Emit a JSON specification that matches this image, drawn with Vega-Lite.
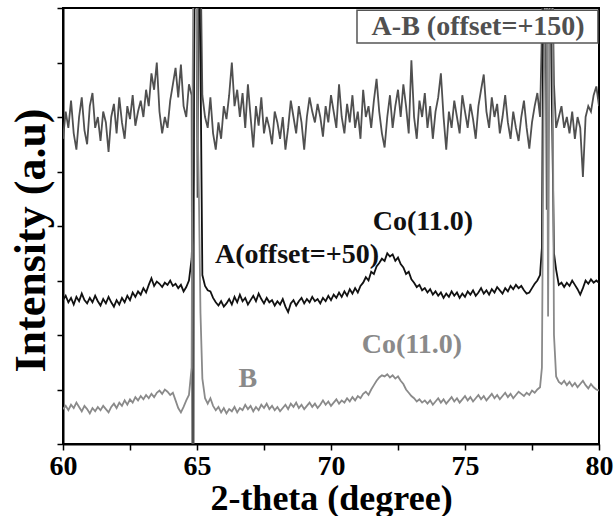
{
  "$schema": "https://vega.github.io/schema/vega-lite/v6.json",
  "width": 536,
  "height": 436,
  "autosize": {"type": "none"},
  "padding": {"left": 63, "top": 8, "right": 17, "bottom": 72},
  "background": "white",
  "config": {
    "view": {"stroke": "black", "strokeWidth": 2},
    "font": "serif",
    "axis": {"grid": false, "domainColor": "black", "domainWidth": 2, "tickColor": "black", "tickWidth": 1.5, "tickSize": 6,
      "labelFont": "serif", "labelFontWeight": "bold", "labelFontSize": 28, "labelColor": "black",
      "titleFont": "serif", "titleFontWeight": "bold", "titleFontSize": 36, "titleColor": "black"}
  },
  "datasets": {
    "spectra": [
      {"x":60.0,"ab":280,"a":132,"b":32},{"x":60.1,"ab":305,"a":136,"b":35},{"x":60.2,"ab":290,"a":130,"b":31},{"x":60.3,"ab":315,"a":134,"b":36},{"x":60.4,"ab":285,"a":128,"b":33},
      {"x":60.5,"ab":270,"a":135,"b":38},{"x":60.6,"ab":300,"a":131,"b":34},{"x":60.7,"ab":318,"a":138,"b":30},{"x":60.8,"ab":288,"a":132,"b":35},{"x":60.9,"ab":275,"a":129,"b":32},
      {"x":61.0,"ab":310,"a":134,"b":28},{"x":61.1,"ab":322,"a":130,"b":33},{"x":61.2,"ab":290,"a":136,"b":30},{"x":61.3,"ab":300,"a":131,"b":34},{"x":61.4,"ab":278,"a":127,"b":31},
      {"x":61.5,"ab":305,"a":133,"b":35},{"x":61.6,"ab":295,"a":129,"b":32},{"x":61.7,"ab":268,"a":135,"b":29},{"x":61.8,"ab":300,"a":130,"b":34},{"x":61.9,"ab":312,"a":126,"b":37},
      {"x":62.0,"ab":285,"a":132,"b":33},{"x":62.1,"ab":318,"a":128,"b":38},{"x":62.2,"ab":295,"a":134,"b":35},{"x":62.3,"ab":280,"a":130,"b":40},{"x":62.4,"ab":310,"a":136,"b":36},
      {"x":62.5,"ab":298,"a":132,"b":41},{"x":62.6,"ab":320,"a":139,"b":38},{"x":62.7,"ab":292,"a":135,"b":43},{"x":62.8,"ab":305,"a":140,"b":40},{"x":62.9,"ab":315,"a":137,"b":44},
      {"x":63.0,"ab":300,"a":143,"b":41},{"x":63.1,"ab":325,"a":139,"b":45},{"x":63.2,"ab":310,"a":146,"b":42},{"x":63.3,"ab":340,"a":152,"b":46},{"x":63.4,"ab":325,"a":145,"b":43},
      {"x":63.5,"ab":350,"a":149,"b":47},{"x":63.6,"ab":305,"a":147,"b":49},{"x":63.7,"ab":285,"a":144,"b":46},{"x":63.8,"ab":300,"a":148,"b":50},{"x":63.9,"ab":290,"a":146,"b":48},
      {"x":64.0,"ab":315,"a":150,"b":45},{"x":64.1,"ab":330,"a":145,"b":47},{"x":64.2,"ab":345,"a":147,"b":40},{"x":64.3,"ab":318,"a":143,"b":33},{"x":64.4,"ab":348,"a":146,"b":29},
      {"x":64.5,"ab":310,"a":140,"b":34},{"x":64.6,"ab":300,"a":144,"b":40},
      {"x":64.7,"ab":330,"a":150,"b":45},{"x":64.8,"ab":320,"a":170,"b":70},{"x":64.83,"ab":-50,"a":190,"b":300},{"x":64.87,"ab":-50,"a":250,"b":450},
      {"x":64.9,"ab":450,"a":450,"b":450},{"x":64.97,"ab":450,"a":450,"b":450},{"x":65.02,"ab":226,"a":450,"b":300},{"x":65.07,"ab":450,"a":450,"b":230},
      {"x":65.13,"ab":450,"a":350,"b":120},{"x":65.2,"ab":320,"a":155,"b":60},{"x":65.3,"ab":300,"a":145,"b":42},
      {"x":65.4,"ab":290,"a":141,"b":37},{"x":65.5,"ab":318,"a":140,"b":42},{"x":65.6,"ab":285,"a":134,"b":35},{"x":65.7,"ab":270,"a":130,"b":31},{"x":65.8,"ab":295,"a":127,"b":34},
      {"x":65.9,"ab":280,"a":131,"b":29},{"x":66.0,"ab":310,"a":126,"b":33},{"x":66.1,"ab":298,"a":129,"b":28},{"x":66.2,"ab":320,"a":133,"b":32},{"x":66.3,"ab":350,"a":128,"b":30},
      {"x":66.4,"ab":310,"a":135,"b":34},{"x":66.5,"ab":325,"a":130,"b":29},{"x":66.6,"ab":300,"a":137,"b":33},{"x":66.7,"ab":322,"a":131,"b":31},{"x":66.8,"ab":290,"a":134,"b":36},
      {"x":66.9,"ab":330,"a":128,"b":32},{"x":67.0,"ab":300,"a":132,"b":35},{"x":67.1,"ab":272,"a":136,"b":30},{"x":67.2,"ab":310,"a":131,"b":34},{"x":67.3,"ab":292,"a":138,"b":31},
      {"x":67.4,"ab":318,"a":133,"b":36},{"x":67.5,"ab":285,"a":129,"b":33},{"x":67.6,"ab":300,"a":134,"b":37},{"x":67.7,"ab":290,"a":130,"b":32},{"x":67.8,"ab":275,"a":132,"b":35},
      {"x":67.9,"ab":305,"a":127,"b":31},{"x":68.0,"ab":295,"a":131,"b":34},{"x":68.1,"ab":280,"a":128,"b":30},{"x":68.2,"ab":300,"a":133,"b":33},{"x":68.3,"ab":270,"a":126,"b":36},
      {"x":68.4,"ab":290,"a":121,"b":32},{"x":68.5,"ab":315,"a":129,"b":37},{"x":68.6,"ab":300,"a":132,"b":34},{"x":68.7,"ab":285,"a":127,"b":38},{"x":68.8,"ab":310,"a":131,"b":33},
      {"x":68.9,"ab":295,"a":134,"b":36},{"x":69.0,"ab":270,"a":129,"b":32},{"x":69.1,"ab":300,"a":133,"b":35},{"x":69.2,"ab":318,"a":130,"b":38},{"x":69.3,"ab":305,"a":135,"b":34},
      {"x":69.4,"ab":295,"a":131,"b":37},{"x":69.5,"ab":312,"a":133,"b":33},{"x":69.6,"ab":300,"a":129,"b":36},{"x":69.7,"ab":282,"a":134,"b":40},{"x":69.8,"ab":310,"a":131,"b":36},
      {"x":69.9,"ab":295,"a":136,"b":39},{"x":70.0,"ab":320,"a":132,"b":35},{"x":70.1,"ab":305,"a":137,"b":38},{"x":70.2,"ab":290,"a":134,"b":41},{"x":70.3,"ab":330,"a":139,"b":37},
      {"x":70.4,"ab":300,"a":135,"b":40},{"x":70.5,"ab":285,"a":140,"b":38},{"x":70.6,"ab":312,"a":136,"b":42},{"x":70.7,"ab":295,"a":142,"b":39},{"x":70.8,"ab":320,"a":138,"b":43},
      {"x":70.9,"ab":290,"a":143,"b":40},{"x":71.0,"ab":305,"a":139,"b":44},{"x":71.1,"ab":280,"a":145,"b":42},{"x":71.2,"ab":325,"a":148,"b":46},{"x":71.3,"ab":300,"a":153,"b":48},
      {"x":71.4,"ab":310,"a":150,"b":45},{"x":71.5,"ab":290,"a":158,"b":50},{"x":71.6,"ab":315,"a":156,"b":54},{"x":71.7,"ab":335,"a":163,"b":58},{"x":71.8,"ab":305,"a":166,"b":61},
      {"x":71.9,"ab":285,"a":170,"b":63},{"x":72.0,"ab":272,"a":168,"b":62},{"x":72.1,"ab":300,"a":175,"b":64},{"x":72.2,"ab":320,"a":172,"b":61},{"x":72.3,"ab":290,"a":174,"b":63},
      {"x":72.4,"ab":310,"a":168,"b":60},{"x":72.5,"ab":325,"a":171,"b":62},{"x":72.6,"ab":300,"a":165,"b":58},{"x":72.7,"ab":330,"a":162,"b":55},{"x":72.8,"ab":310,"a":156,"b":50},
      {"x":72.9,"ab":285,"a":158,"b":47},{"x":73.0,"ab":352,"a":151,"b":44},{"x":73.1,"ab":300,"a":148,"b":42},{"x":73.2,"ab":280,"a":144,"b":39},{"x":73.3,"ab":315,"a":146,"b":41},
      {"x":73.4,"ab":300,"a":141,"b":38},{"x":73.5,"ab":322,"a":143,"b":40},{"x":73.6,"ab":290,"a":139,"b":37},{"x":73.7,"ab":310,"a":142,"b":40},{"x":73.8,"ab":280,"a":137,"b":36},
      {"x":73.9,"ab":305,"a":140,"b":39},{"x":74.0,"ab":318,"a":136,"b":42},{"x":74.1,"ab":340,"a":139,"b":38},{"x":74.2,"ab":300,"a":134,"b":41},{"x":74.3,"ab":270,"a":138,"b":37},
      {"x":74.4,"ab":305,"a":135,"b":40},{"x":74.5,"ab":290,"a":140,"b":43},{"x":74.6,"ab":315,"a":136,"b":39},{"x":74.7,"ab":300,"a":139,"b":42},{"x":74.8,"ab":285,"a":134,"b":38},
      {"x":74.9,"ab":320,"a":138,"b":41},{"x":75.0,"ab":305,"a":135,"b":44},{"x":75.1,"ab":290,"a":140,"b":40},{"x":75.2,"ab":312,"a":137,"b":43},{"x":75.3,"ab":298,"a":141,"b":39},
      {"x":75.4,"ab":280,"a":136,"b":42},{"x":75.5,"ab":310,"a":139,"b":45},{"x":75.6,"ab":325,"a":143,"b":41},{"x":75.7,"ab":339,"a":138,"b":44},{"x":75.8,"ab":305,"a":141,"b":40},
      {"x":75.9,"ab":290,"a":137,"b":43},{"x":76.0,"ab":318,"a":142,"b":46},{"x":76.1,"ab":300,"a":139,"b":42},{"x":76.2,"ab":312,"a":144,"b":45},{"x":76.3,"ab":285,"a":141,"b":41},
      {"x":76.4,"ab":300,"a":138,"b":44},{"x":76.5,"ab":320,"a":143,"b":47},{"x":76.6,"ab":295,"a":140,"b":43},{"x":76.7,"ab":280,"a":145,"b":46},{"x":76.8,"ab":305,"a":142,"b":42},
      {"x":76.9,"ab":290,"a":146,"b":45},{"x":77.0,"ab":278,"a":143,"b":48},{"x":77.1,"ab":300,"a":145,"b":46},{"x":77.2,"ab":315,"a":141,"b":44},{"x":77.3,"ab":290,"a":138,"b":47},
      {"x":77.4,"ab":271,"a":139,"b":45},{"x":77.5,"ab":295,"a":143,"b":49},{"x":77.6,"ab":310,"a":147,"b":47},{"x":77.7,"ab":322,"a":150,"b":50},
      {"x":77.8,"ab":300,"a":155,"b":52},{"x":77.87,"ab":380,"a":180,"b":70},{"x":77.93,"ab":450,"a":450,"b":300},{"x":78.0,"ab":450,"a":450,"b":450},
      {"x":78.05,"ab":215,"a":450,"b":450},{"x":78.1,"ab":450,"a":450,"b":117},{"x":78.17,"ab":450,"a":450,"b":450},{"x":78.25,"ab":450,"a":300,"b":450},
      {"x":78.32,"ab":330,"a":175,"b":100},{"x":78.4,"ab":290,"a":160,"b":62},{"x":78.5,"ab":300,"a":146,"b":57},
      {"x":78.6,"ab":310,"a":148,"b":55},{"x":78.7,"ab":290,"a":144,"b":58},{"x":78.8,"ab":300,"a":148,"b":54},{"x":78.9,"ab":285,"a":145,"b":57},{"x":79.0,"ab":305,"a":150,"b":53},
      {"x":79.1,"ab":280,"a":146,"b":56},{"x":79.2,"ab":300,"a":142,"b":52},{"x":79.3,"ab":290,"a":137,"b":55},{"x":79.4,"ab":245,"a":143,"b":58},{"x":79.5,"ab":300,"a":150,"b":54},
      {"x":79.6,"ab":310,"a":147,"b":51},{"x":79.7,"ab":305,"a":151,"b":55},{"x":79.8,"ab":320,"a":148,"b":52},{"x":79.9,"ab":328,"a":150,"b":50},{"x":80.0,"ab":310,"a":148,"b":49}
    ],
    "labels": [
      {"x": 75.49, "y": 383, "text": "A-B (offset=+150)", "tone": "ab"},
      {"x": 68.73, "y": 173, "text": "A(offset=+50)", "tone": "a"},
      {"x": 73.43, "y": 204, "text": "Co(11.0)", "tone": "a"},
      {"x": 73.02, "y": 91, "text": "Co(11.0)", "tone": "b"},
      {"x": 66.9, "y": 60, "text": "B", "tone": "b"}
    ],
    "box": [{"x1": 70.97, "x2": 79.96, "y1": 368, "y2": 398}]
  },
  "layer": [
    {
      "data": {"name": "spectra"},
      "transform": [{"fold": ["ab", "a", "b"], "as": ["series", "value"]}],
      "mark": {"type": "line", "clip": true, "strokeWidth": 1.8},
      "encoding": {
        "x": {"field": "x", "type": "quantitative", "scale": {"domain": [60, 80], "nice": false, "zero": false},
          "axis": {"title": "2-theta (degree)", "values": [60, 62.5, 65, 67.5, 70, 72.5, 75, 77.5, 80],
            "labelExpr": "datum.value % 5 == 0 ? datum.label : ''", "labelPadding": 2, "titlePadding": 1, "labelFlush": false}},
        "y": {"field": "value", "type": "quantitative", "scale": {"domain": [0, 400], "nice": false},
          "axis": {"title": "Intensity (a.u)", "titleFontSize": 44, "titleY": 232, "values": [0, 50, 100, 150, 200, 250, 300, 350, 400], "labels": false, "titlePadding": 3}},
        "color": {"field": "series", "type": "nominal", "scale": {"domain": ["ab", "a", "b"], "range": ["#505050", "#111111", "#8a8a8a"]}, "legend": null},
        "detail": {"field": "series"}
      }
    },
    {
      "data": {"name": "box"},
      "mark": {"type": "rect", "fill": "white", "stroke": "#555555", "strokeWidth": 1.5},
      "encoding": {
        "x": {"field": "x1", "type": "quantitative"},
        "x2": {"field": "x2"},
        "y": {"field": "y1", "type": "quantitative"},
        "y2": {"field": "y2"}
      }
    },
    {
      "data": {"name": "labels"},
      "mark": {"type": "text", "font": "serif", "fontWeight": "bold", "fontSize": 28, "align": "center", "baseline": "middle"},
      "encoding": {
        "x": {"field": "x", "type": "quantitative"},
        "y": {"field": "y", "type": "quantitative"},
        "text": {"field": "text"},
        "color": {"field": "tone", "type": "nominal", "scale": {"domain": ["ab", "a", "b"], "range": ["#505050", "#111111", "#8a8a8a"]}, "legend": null}
      }
    }
  ]
}
